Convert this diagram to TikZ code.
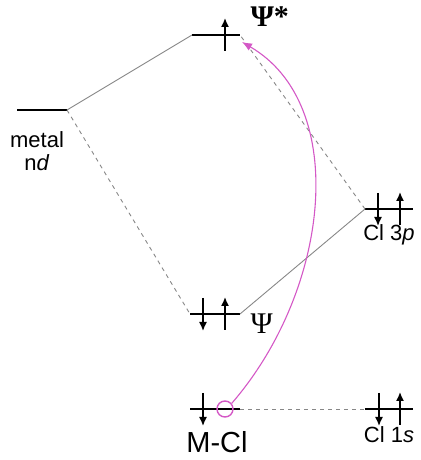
\documentclass[tikz,border=0pt]{standalone}
\usepackage{fontspec}
\setmainfont{Liberation Sans}
\newfontfamily\psifont{Liberation Serif}
\usetikzlibrary{arrows.meta,positioning,calc}
\definecolor{exccolor}{RGB}{212,88,198}
\definecolor{linkcolor}{RGB}{135,135,135}
\newcommand{\spinup}[1]{%
  \draw[spin] ($#1+(0,-16)$) -- ($#1+(0,17)$);
}
\newcommand{\spindn}[1]{%
  \draw[spin] ($#1+(0,16)$) -- ($#1+(0,-17)$);
}
\tikzset{
  level/.style={line width=2pt},
  link/.style={linkcolor, line width=0.9pt},
  linkd/.style={link, dash pattern=on 4pt off 4pt},
  spin/.style={line width=1.5pt, -{Latex[length=9pt,width=8pt]}},
  excite/.style={exccolor, line width=1.1pt, -{Latex[length=10pt,width=8pt]}},
}

\begin{document}
\begin{tikzpicture}[x=1pt, y=1pt, font=\fontsize{22}{24}\selectfont]
        \useasboundingbox (0,0) rectangle (420,460);
        % levels
        \coordinate (metL) at (17,350);  \coordinate (metR) at (67,350);
        \coordinate (psisL) at (192,425); \coordinate (psisR) at (240,425);
        \coordinate (clpL) at (365,251);  \coordinate (clpR) at (413,251);
        \coordinate (psiL) at (190,146);  \coordinate (psiR) at (240,146);
        \coordinate (mclL) at (190,51);   \coordinate (mclR) at (240,51);
        \coordinate (clsL) at (365,51);   \coordinate (clsR) at (413,51);
        \coordinate (tipstar) at (242,418);
        \foreach \a/\b in {metL/metR,psisL/psisR,clpL/clpR,psiL/psiR,mclL/mclR,clsL/clsR}
          \draw[level] (\a) -- (\b);
        % correlation lines
        \draw[link] (metR) -- (psisL);
        \draw[linkd] (metR) -- (psiL);
        \draw[linkd] (clpL) -- (psisR);
        \draw[link] (clpL) -- (psiR);
        \draw[linkd] (mclR) -- (clsL);
        % electrons
        \spinup{(225,425)}
        \spindn{(378,251)} \spinup{(400,251)}
        \spindn{(203,146)} \spinup{(225,146)}
        \spindn{(203,51)}
        \spindn{(379,51)} \spinup{(400,51)}
        \node[draw=exccolor, circle, minimum size=16pt, inner sep=0pt, line width=1.4pt] (hole) at (225,51) {};
        \draw[excite] (hole.40) .. controls (330,170) and (350,355) .. (tipstar);
        % labels
        \node (metlab) at (37,320) {metal};
        \node (ndlab) at (37,297) {n\textit{d}};
        \node[anchor=west, font=\psifont\fontsize{30}{32}\selectfont\bfseries] (psislab) at (247,443) {Ψ*};
        \node[anchor=west, font=\psifont\fontsize{30}{32}\selectfont] (psilab) at (247,136) {Ψ};
        \node (clplab) at (389,225) {Cl 3\textit{p}};
        \node (clslab) at (389,25) {Cl 1\textit{s}};
        \node[font=\fontsize{29}{31}\selectfont, inner sep=1pt] (mcllab) at (217,18) {M-Cl};
      \end{tikzpicture}
\end{document}
